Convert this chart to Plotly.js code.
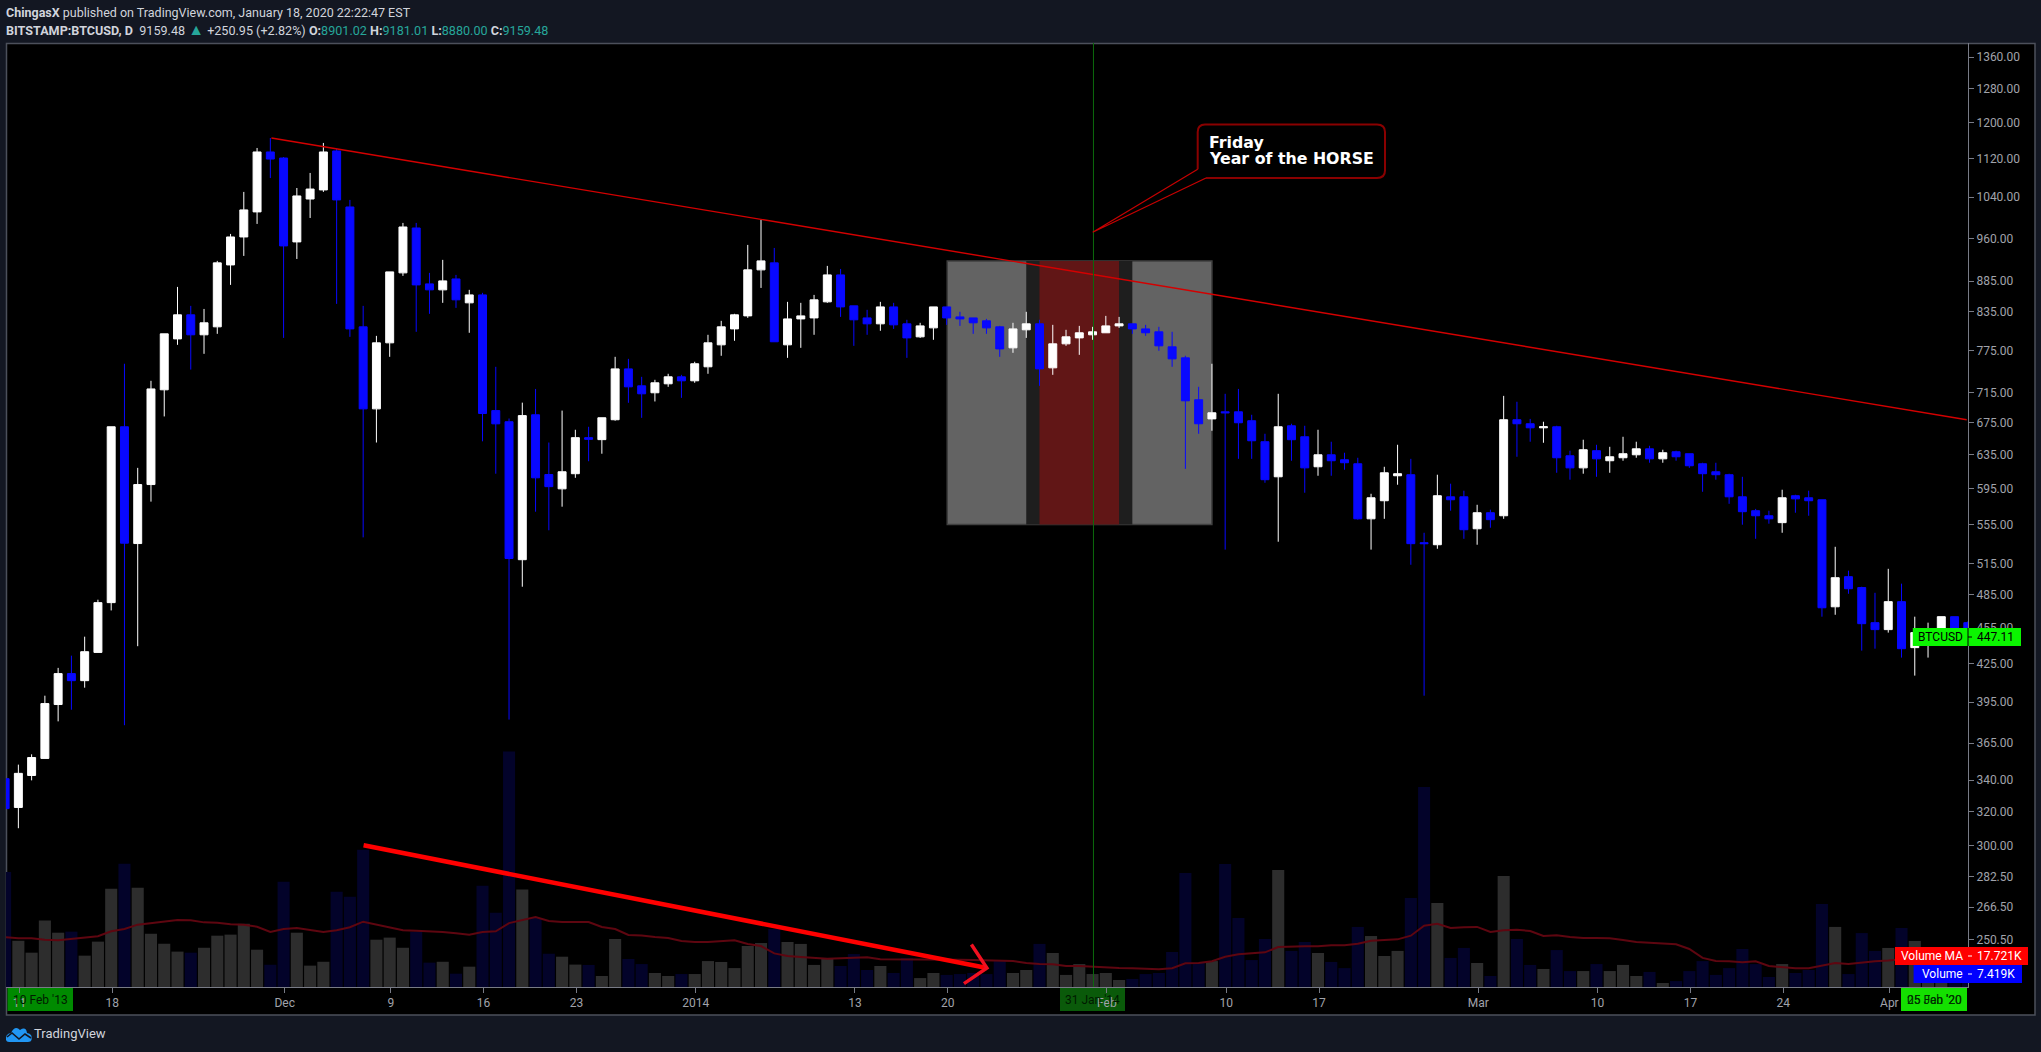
<!DOCTYPE html>
<html><head><meta charset="utf-8">
<script src="https://cdn.plot.ly/plotly-3.0.1.min.js"></script>
<style>html,body{margin:0;padding:0;background:#131722;overflow:hidden}#c{width:2041px;height:1052px}</style>
</head><body><div id="c"></div>
<script>
const firstDay = [2013,10,10];
const open = [341,322.7,343.1,354.5,393.1,417.1,411.5,434.4,477.9,669.5,
535.2,599.3,718.7,792.4,829.8,798.6,810.9,913.1,963.4,1010.8,
1133.9,1120.8,954.3,1036.1,1054.3,1136.1,1020.4,810.9,692.9,786.4,
899.3,980.1,880.5,870.5,888.9,849.1,862.1,690.6,676,518.9,
685.1,610.9,594.4,611.9,655.7,653.2,678.6,748.1,724.2,714.6,
727,736.8,731.2,751.1,783.4,807.7,828.1,904.5,916.7,783.4,
823.3,824.9,850.7,895.8,844.2,824.9,815.6,842.5,815.6,795.5,
809.3,842.5,826.5,824.9,820.3,810.9,778.9,806.3,815.6,749.6,
784.9,793.9,798.6,801.7,812.4,815.6,807.7,803.2,780.4,764.1,
705.1,679.7,689,689,677.3,650.6,608.3,670.8,656.8,620.1,
634.5,628.5,623.7,561.2,581,609.5,610.7,536.1,534,585.4,
585.4,550.6,567.8,564.5,678.6,673.4,668.2,669.5,633.3,618.8,
639.5,627.3,630.9,634.5,641.8,629.6,638.2,635.8,623.7,614.2,
610.7,585.4,570,564.5,557.1,586.6,584.3,582.1,474.1,502.3,
491.9,459.9,453.8,478.8,438.4,441,450.4,465.2,459.9];
const high = [341,350.3,357.3,399.8,421.7,431.7,447.7,480.6,669.5,755.5,
618.8,731.2,800.1,875.4,844.2,839.2,920.2,969,1050.3,1142.6,
1164.6,1123,1058.2,1089.2,1153.7,1140.3,1034.3,844.2,797,901,
989.7,989.7,899.3,922,895.8,870.5,865.5,751.1,680.2,701.2,
719.9,649.6,690.6,665.7,669.5,681.2,765.6,762.6,736.8,732.6,
741.1,739.6,758.4,798.6,820.3,831.4,948.8,995.4,943.3,850.7,
849.1,862.1,911.4,906.1,844.2,837.8,850.7,849.1,821.9,817.2,
842.5,842.5,834.6,824.9,823.3,812.4,817.2,834.6,821.9,814,
806.3,812.4,810.9,828.1,826.5,815.6,814,810.9,803.2,767.1,
722.8,755.5,713.2,719.9,685.1,660.6,713.2,673.4,670.8,665.7,
650.6,637,630.9,588.8,620.1,646.8,629.6,546.4,610.7,600.3,
592.3,576.5,571.1,710.4,702.4,679.7,676,670.8,639.5,653.1,
646.8,644.3,656.8,650.6,645.6,640.7,639.5,635.8,624.9,624.9,
611.9,608.3,572,570,593.4,587.7,592.3,582.1,531.9,508.1,
492.7,487,509.9,495.6,465.2,459.9,465.2,465.2,461];
const low = [322,310.1,339.9,354.5,380.6,389.2,406,434.4,470.8,377.8,
439.6,580,682.9,783.4,747.1,770,800.1,878.8,929,987.8,
1078.7,793.9,923.6,999.1,1050.3,847.4,795.5,541.6,649.6,765.6,
894.1,803.2,831.4,849.1,840.9,801.7,651.1,611.9,381.9,492.7,
568.9,549,574.4,607.1,626.7,635.8,677.3,701,681.1,702.8,
722.8,707.7,728.4,741.1,767.1,789.5,824.9,873.7,788,764.1,
778.9,798.6,849.1,826.5,781.9,798.6,804.8,807.7,764.1,793.9,
791,814,812.4,800.1,800.1,765.6,771.5,793.9,724.2,739.6,
781.9,768.5,791,801.7,809.3,800.1,797,774.5,751.1,617.6,
660.6,664.4,529,629.6,629.6,601.4,537.1,627.3,590,609.5,
609.5,616.6,560.3,529,561.2,599.1,513.9,399.8,529.9,570,
540.1,534,551.7,561.2,632.1,650.6,649.3,613,604.9,611.9,
608.3,613,627.3,630.9,624.9,624.9,627.3,618.8,591.1,604.9,
577.6,554.9,540.1,556,546.4,567.8,564.5,465.2,466.9,486.1,
435.9,437.5,451.2,430.1,415.5,430.1,445.2,441,445];
const close = [322,344.5,355.1,393.8,417.1,411.5,435,477.9,669.5,535.6,
599.3,719.9,800.1,829.8,798.6,817.2,916.7,963.4,1014.7,1133.9,
1118.6,947,1042.2,1056.1,1133.9,1034.3,807.7,692.9,786.4,901,
982,878.8,870.5,885.6,854,862.1,686.8,673.3,520.1,684,
607.1,596.9,614.2,655.7,653.6,681.2,748.1,722.8,713.2,728.4,
736.8,731.2,755.5,786.4,810.9,829.8,904.5,920.2,788,823.3,
828.1,854,895.8,842.5,821.9,815.6,842.5,814,793.9,812.4,
842.5,824.9,823.3,817.2,809.3,777.3,807.7,815.6,748.1,784.9,
795.5,801.7,803.2,812.4,815.6,807.7,801.7,781.9,762.6,703.7,
673.4,687.7,687.7,674.7,651.8,604.9,669.5,653.1,618.8,634.5,
627.3,624.9,561.2,584.3,613,611.9,535.1,535.1,586.6,582.1,
549.6,567.8,560.3,678.6,673.4,668.2,669.5,630.9,618.8,640.7,
629.6,632.1,635.8,641.8,629.6,637,632.1,621.3,611.9,610.7,
585.4,568.9,564.5,561.2,584.3,583.1,581,473.2,501.3,490.8,
459,453.8,478.8,437.5,451.2,453.8,465.2,448.6,447.1];
const volume = [65.7,26.4,19.6,37.9,31,31.6,17.9,25.9,56.1,70.4,
56.7,30.4,24.7,20.2,19.6,22.4,29.3,29.9,36.1,21.3,
12.7,60.1,31,12.2,14.4,54.4,51.6,78.4,27,28.2,
22.4,31.6,13.9,14.4,7.6,11.6,57.8,42.4,134.4,55.6,
39.4,19,17.3,12.8,12.6,6.3,27.4,16,13.1,8,
6.3,7.4,7.4,14.8,14.3,10.8,23.4,25.1,33.1,25.7,
24.6,12.6,16,12,18.8,9.7,12,8,16.6,5.1,
8,6.9,7.4,8,7.4,14.8,8,9.7,24.6,19.4,
6.9,13.1,7.4,8,4,4.6,7.4,8,20,65.1,
13.7,14.8,70.2,39.4,15.4,27.4,66.8,20.6,25.7,19.4,
14.3,10.8,34.3,29.1,17.7,20.6,50.8,114.2,48,16.6,
22.3,13.7,6.3,63.4,27.4,12.6,10.3,21.1,9.1,9.1,
13.1,9.1,12.6,6.3,8.6,2.3,3.4,9.1,14.8,6.9,
10.8,21.7,13.1,5.7,13.1,8,9.7,47.4,34.3,7.4,
30.8,20.6,22.3,33.7,26.3,8,8,7.4,7.4];
const volumeMA = [28.4,27.8,27.8,27,26.7,27.6,28.2,29,31.8,33.1,
35.6,36.5,37.5,38.3,38.1,36.9,36.7,35.8,35.6,34.4,
31.4,33.1,33.7,32.5,31.4,32.4,34.1,37.3,35.6,34.3,
32.4,32.1,31.8,31.4,30.7,29.9,31.4,31.8,36.5,38.1,
40,37.7,37.1,37.1,37.1,34.3,33.1,29.7,29.4,28.6,
28,26.3,25.7,25.7,26.3,26.7,24.6,23.4,19.2,17.7,
17.1,16.6,16.2,16.4,16.6,17,15.8,15.8,16,16,
16,15.8,15.6,15.4,15.2,15.2,14.8,13.7,13.1,13,
12,12,11.6,11,10.8,10.7,10.3,10.1,10.7,13.5,
13.7,14.7,17.3,18.7,19.2,19.8,22.8,23.2,23.2,23.2,
23.8,23.8,24.7,26.4,26.8,27.2,29.3,35,36.1,33.7,
34.1,34.3,31.4,32.4,32.7,32,29.1,29.5,28.6,28,
28,27.8,26.8,25.7,25.3,24.7,24.4,21.7,16.6,14.8,
14.7,14.1,14.7,12,11.4,10.7,10.7,12,13.7,13.1,
14.1,14.7,15.2,16,16.6,17.1,17.1,17.7,17.7];

const priceTicks = [1360,1280,1200,1120,1040,960,885,835,775,715,675,635,595,555,515,485,455,425,395,365,340,320,300,282.5,266.5,250.5];
const dateTickVals = ['2013-11-11','2013-11-18','2013-12-01','2013-12-09','2013-12-16','2013-12-23','2014-01-01','2014-01-13','2014-01-20','2014-02-01','2014-02-10','2014-02-17','2014-03-01','2014-03-10','2014-03-17','2014-03-24','2014-04-01'];
const dateTickText = ['11','18','Dec','9','16','23','2014','13','20','Feb','10','17','Mar','10','17','24','Apr'];

const trendDates = ['2013-11-30','2014-04-06T20:00'];
const trendPrices = [1164.6,678.6];
const arrowDates = ['2013-12-06T22:48','2014-01-22T22:48'];
const arrowPrices = [300.1,237.2];
const arrowHeadDates = ['2014-01-21T18:43','2014-01-22T22:48','2014-01-21T05:17'];
const arrowHeadPrices = [248.1,237.2,230.2];
const cursorDate = '2014-01-30T23:38';
const grayBand = ['2014-01-19T23:00','2014-02-08T22:00',555,920];
const darkBand = ['2014-01-25T22:00','2014-02-02T22:00',555,920];
const redBand = ['2014-01-26T22:00','2014-02-01T22:00',555,920];

const dayOffsetMs = -2 * 3600e3;
const dates = open.map((_, i) => new Date(Date.UTC(firstDay[0], firstDay[1], firstDay[2] + i) + dayOffsetMs).toISOString().slice(0, 16));
const isUp = open.map((o, i) => close[i] >= o);

const W = 2041, H = 1052, L = 6, R = 73, T = 43, B = 65;
const PW = W - L - R, PH = H - T - B;
const px = x => (x - L) / PW;
const py = y => 1 - (y - T) / PH;
const rect = (x0, y0, x1, y1, fill, layer, line) => ({type:'rect', xref:'paper', yref:'paper', x0:px(x0), x1:px(x1), y0:py(y0), y1:py(y1), fillcolor:fill, layer:layer, line: line || {width:0}});
const seg = (x0, y0, x1, y1, color, w) => ({type:'line', xref:'paper', yref:'paper', x0:px(x0), x1:px(x1), y0:py(y0), y1:py(y1), layer:'above', line:{color:color, width:w||1}});
const pathPx = (pts) => pts.map(p => typeof p === 'string' ? p : (px(p[0]) + ',' + py(p[1]))).join(' ');

const txt = (x, y, text, o) => Object.assign({xref:'paper', yref:'paper', x:px(x), y:py(y), text:text, showarrow:false, xanchor:'left', yanchor:'middle', align:'left', borderpad:0, borderwidth:0, font:{family:'Roboto', size:12, color:'#000'}}, o||{});

const traces = [
 {type:'bar', x:dates, y:volume, yaxis:'y', marker:{color:isUp.map(u => u ? '#2d2d2d' : '#03032a'), line:{width:0}}, hoverinfo:'skip'},
 {type:'scatter', mode:'lines', x:dates, y:volumeMA, yaxis:'y', line:{color:'#5e0610', width:2}, hoverinfo:'skip'},
 {type:'candlestick', x:dates, open:open, high:high, low:low, close:close, yaxis:'y2', whiskerwidth:0,
  increasing:{line:{color:'#ffffff', width:1}, fillcolor:'#ffffff'},
  decreasing:{line:{color:'#0808ff', width:1}, fillcolor:'#0808ff'}, hoverinfo:'skip'},
 {type:'scatter', mode:'lines', x:trendDates, y:trendPrices, yaxis:'y2', line:{color:'#d40000', width:1.4}, hoverinfo:'skip'},
 {type:'scatter', mode:'lines', x:arrowDates, y:arrowPrices, yaxis:'y2', line:{color:'#ff0000', width:4.5}, hoverinfo:'skip'},
 {type:'scatter', mode:'lines', x:arrowHeadDates, y:arrowHeadPrices, yaxis:'y2', line:{color:'#f01020', width:3.5}, hoverinfo:'skip'}
];

const calloutPath = 'M ' + pathPx([[1197.7,169.3],'L',[1197.7,132],'Q',[1197.7,124.5],[1205,124.5],'L',[1377,124.5],'Q',[1385,124.5],[1385,132],'L',[1385,170.5],'Q',[1385,178],[1377,178],'L',[1206,178]]);
const pointerPath = 'M ' + pathPx([[1206,178],'L',[1092.7,232.3],'L',[1197.7,169.3]]);
const logoCloud = 'M ' + pathPx([[6,1040],'Q',[5,1034],[11,1033],'Q',[15,1025],[20,1030],'Q',[26,1026],[27,1033],'Q',[33,1034],[31.5,1040],'Q',[31,1042],[28,1042],'L',[9,1042],'Q',[6.5,1042],[6,1040],'Z']);
const logoWave = 'M ' + pathPx([[7,1037],'L',[12,1033],'L',[19,1039],'L',[25,1034],'L',[31,1038]]);

const shapes = [
 rect(6.5,43.5,2035,1015,'#000000','below',{color:'#4c505b', width:1.5}),
 rect(7.5,988,73,1011,'#008a00','below'),
 rect(1060,988,1125,1011,'#0a5a0a','below'),
 rect(1901,988,1967,1011,'#14e000','below'),
 {type:'rect', xref:'x', yref:'y2', x0:grayBand[0], x1:grayBand[1], y0:grayBand[2], y1:grayBand[3], fillcolor:'#636363', line:{color:'#404040', width:1.5}, layer:'below'},
 {type:'rect', xref:'x', yref:'y2', x0:darkBand[0], x1:darkBand[1], y0:darkBand[2], y1:darkBand[3], fillcolor:'#1e1e1e', line:{width:0}, layer:'below'},
 {type:'rect', xref:'x', yref:'y2', x0:redBand[0], x1:redBand[1], y0:redBand[2], y1:redBand[3], fillcolor:'#611616', line:{width:0}, layer:'below'},
 {type:'line', xref:'x', yref:'paper', x0:cursorDate, x1:cursorDate, y0:0, y1:1, line:{color:'#0c6a0c', width:1}, layer:'above'},
 {type:'path', xref:'paper', yref:'paper', path:calloutPath, line:{color:'#8a0000', width:2}, layer:'above'},
 {type:'path', xref:'paper', yref:'paper', path:pointerPath, line:{color:'#c80000', width:1.2}, layer:'above'},
 rect(1912.8,628,2021,646,'#0bf500','above'),
 seg(1968,628,1968,646,'#000000',1),
 seg(1968,637,1972,637,'#000000',1),
 rect(1895,947,2028,965,'#ff0000','above'),
 seg(1968,956,1972,956,'#ffffff',1),
 rect(1913.6,965,2022,983,'#0000ff','above'),
 seg(1968,974,1972,974,'#ffffff',1),
 {type:'path', xref:'paper', yref:'paper', path:logoCloud, fillcolor:'#2196f3', line:{width:0}, layer:'above'},
 {type:'path', xref:'paper', yref:'paper', path:logoWave, line:{color:'#131722', width:1.6}, layer:'above'}
];

const dim = '#d1d4dc', teal = '#26a69a';
const annotations = [
 txt(6,12.5,'<b>ChingasX</b> published on TradingView.com, January 18, 2020 22:22:47 EST',{font:{family:'Roboto',size:12.5,color:dim}}),
 txt(6,29.5,'<b>BITSTAMP:BTCUSD, D</b>  9159.48 <span style="color:'+teal+';font-size:16px">▲</span> +250.95 (+2.82%) <b>O:</b><span style="color:'+teal+'">8901.02</span> <b>H:</b><span style="color:'+teal+'">9181.01</span> <b>L:</b><span style="color:'+teal+'">8880.00</span> <b>C:</b><span style="color:'+teal+'">9159.48</span>',{font:{family:'Roboto',size:12.6,color:dim}}),
 txt(1209,142.5,'<b>Friday</b>',{font:{family:'DejaVu Sans',size:15.8,color:'#ffffff'}}),
 txt(1209,158.5,'<b>Year of the HORSE</b>',{font:{family:'DejaVu Sans',size:15.8,color:'#ffffff'}}),
 txt(40.2,1000,"10 Feb '13",{xanchor:'center',font:{family:'Roboto',size:12,color:'#001a00'}}),
 txt(1092.5,1000,"31 Jan '14",{xanchor:'center',font:{family:'Roboto',size:12,color:'#001a00'}}),
 txt(1934,1000,"25 Jan '20",{xanchor:'center',font:{family:'Roboto',size:12,color:'#003000'}}),
 txt(1934,1000,"05 Feb '20",{xanchor:'center',font:{family:'Roboto',size:12,color:'#003000'}}),
 txt(1963,637,'BTCUSD',{xanchor:'right'}),
 txt(1977,637,'447.11',{}),
 txt(1963,956,'Volume MA',{xanchor:'right',font:{family:'Roboto',size:12,color:'#ffffff'}}),
 txt(1977,956,'17.721K',{font:{family:'Roboto',size:12,color:'#ffffff'}}),
 txt(1963,974,'Volume',{xanchor:'right',font:{family:'Roboto',size:12,color:'#ffffff'}}),
 txt(1977,974,'7.419K',{font:{family:'Roboto',size:12,color:'#ffffff'}}),
 txt(34,1033,'TradingView',{font:{family:'Roboto',size:13,color:dim}})
];

const axisColor = '#787b86', tickFont = {family:'Roboto', size:12, color:'#a0a3ab'};
const layout = {
 width:W, height:H, margin:{l:L, r:R, t:T, b:B, pad:0},
 paper_bgcolor:'#131722', plot_bgcolor:'#000000', showlegend:false, hovermode:false, dragmode:false,
 bargap:0.09, boxgap:0.4, boxgroupgap:0,
 xaxis:{type:'date', range:['2013-11-09T23:38','2014-04-06T22:19'], rangeslider:{visible:false}, tickmode:'array', tickvals:dateTickVals, ticktext:dateTickText,
   ticks:'outside', ticklen:5, tickcolor:axisColor, tickfont:tickFont, showline:true, linecolor:axisColor, linewidth:1, showgrid:false, zeroline:false, fixedrange:true},
 yaxis:{type:'linear', range:[0,539], visible:false, fixedrange:true, showgrid:false, zeroline:false},
 yaxis2:{type:'log', range:[2.3593,3.1453], overlaying:'y', side:'right', anchor:'x', tickmode:'array', tickvals:priceTicks, ticktext:priceTicks.map(v => v.toFixed(2)),
   ticks:'outside', ticklen:5, tickcolor:axisColor, tickfont:tickFont, showline:true, linecolor:axisColor, linewidth:1, showgrid:false, zeroline:false, fixedrange:true},
 shapes:shapes, annotations:annotations
};
Plotly.newPlot('c', traces, layout, {displayModeBar:false, staticPlot:true});
</script></body></html>
